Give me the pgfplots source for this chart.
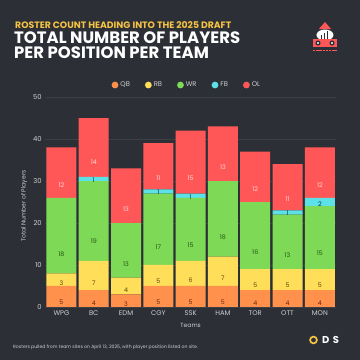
\documentclass[border=0pt]{standalone}
\usepackage{pgfplots}
\pgfplotsset{compat=1.18}
\usepackage{pgfplotstable}
\usepackage{fontspec}
\setmainfont{Poppins}
\definecolor{bg}{RGB}{44,48,54}
\definecolor{cQB}{HTML}{FF914D}
\definecolor{cRB}{HTML}{FFDE59}
\definecolor{cWR}{HTML}{7ED957}
\definecolor{cFB}{HTML}{5CE1E6}
\definecolor{cOL}{HTML}{FF5757}
\definecolor{ttl}{HTML}{F6C344}
\definecolor{lbl}{RGB}{205,205,205}
\definecolor{tQB}{RGB}{110,40,10}
\definecolor{tRB}{RGB}{95,75,10}
\definecolor{tWR}{RGB}{35,85,20}
\definecolor{tFB}{RGB}{20,50,60}
\definecolor{tOL}{RGB}{255,215,215}

\pgfplotstableread{
idx team QB RB WR FB OL
0 WPG 5 3 18 0 12
1 BC 4 7 19 1 14
2 EDM 3 4 13 0 13
3 CGY 5 5 17 1 11
4 SSK 5 6 15 1 15
5 HAM 5 7 18 0 13
6 TOR 4 5 16 0 12
7 OTT 4 5 13 1 11
8 MON 4 5 15 2 12
}\rosters

\pgfplotsset{
  seglabel/.style 2 args={
    point meta=explicit,
    visualization depends on={\thisrow{#1} \as \segval},
    nodes near coords={\ifdim\segval pt>0pt\pgfmathprintnumber{\pgfplotspointmeta}\fi},
    every node near coord/.style={anchor=center, yshift=-1.05*\segval pt,
      font=\fontsize{6.3}{7}\selectfont, text=#2, inner sep=0pt},
  }
}

\begin{document}
\begin{tikzpicture}[x=1pt,y=1pt]
\fill[bg] (0,0) rectangle (360,360);
% titles
\node[anchor=west, text=ttl, font=\bfseries\fontsize{9.3}{10}\selectfont, inner sep=0] at (15,335) {ROSTER COUNT HEADING INTO THE 2025 DRAFT};
\node[anchor=west, text=white, font=\bfseries\fontsize{16.5}{17}\selectfont, inner sep=0] at (14,322) {TOTAL NUMBER OF PLAYERS};
\node[anchor=west, text=white, font=\bfseries\fontsize{16.5}{17}\selectfont, inner sep=0] at (14,307) {PER POSITION PER TEAM};
% logo
\fill[cOL] (319,331) -- (331,331) -- (325,338) -- cycle;
\fill[white] (325,325) ellipse (8.5 and 5.5);
\fill[bg] (321,321.5) rectangle (322.5,325);
\fill[bg] (324,321.5) rectangle (325.5,327);
\fill[bg] (327,321.5) rectangle (328.5,329);
\fill[cOL] (313,313) rectangle (337,321);
\fill[bg] (318,317) circle (2.6);
\fill[bg] (332,317) circle (2.6);
\fill[white] (318,317) circle (1.2);
\fill[white] (332,317) circle (1.2);
\draw[cOL, line width=1.2pt, dash pattern=on 2.5pt off 0.7pt] (313,309.5) -- (337,309.5);
% footer
\node[anchor=west, text=lbl, font=\fontsize{4.6}{5}\selectfont, inner sep=0] at (13,13) {Rosters pulled from team sites on April 13, 2025, with player position listed on site.};
\draw[ttl, line width=1.7pt] (313.5,20) circle (3.4);
\node[anchor=west, text=white, font=\bfseries\fontsize{10}{10}\selectfont, inner sep=0] at (322,20) {D\hspace{3.5pt}S};

\begin{axis}[
  at={(45.3pt,53pt)}, anchor=south west,
  x=32.3pt, y=4.2pt,
  xmin=-0.5, xmax=8.5, ymin=0, ymax=50,
  ybar stacked, bar width=30pt,
  axis line style={draw=none}, major tick style={draw=none},
  xtick=data, xticklabels from table={\rosters}{team},
  ytick={0,10,...,50},
  ymajorgrids, grid style={white, opacity=0.08, line width=0.6pt},
  ticklabel style={font=\fontsize{6.8}{8}\selectfont, text=lbl},
  /pgf/number format/assume math mode=true,
  xlabel={Teams}, ylabel={Total Number of Players},
  label style={font=\fontsize{6}{7}\selectfont, text=lbl},
  xlabel style={at={(axis description cs:0.5,-0.086)}, anchor=center},
  ylabel style={at={(axis description cs:-0.05,0.48)}, anchor=south},
  legend style={at={(0.487,1.057)}, anchor=center, draw=none, fill=none,
    legend columns=5, font=\fontsize{6.8}{7}\selectfont, text=lbl,
    /tikz/every even column/.append style={column sep=13pt}},
  legend image code/.code={\fill[#1,draw=none] (0pt,0pt) circle (3.4pt);},
]
\addplot[fill=cQB, draw=none, seglabel={QB}{tQB}] table[x=idx, y=QB, meta=QB]{\rosters};
\addplot[fill=cRB, draw=none, seglabel={RB}{tRB}] table[x=idx, y=RB, meta=RB]{\rosters};
\addplot[fill=cWR, draw=none, seglabel={WR}{tWR}] table[x=idx, y=WR, meta=WR]{\rosters};
\addplot[fill=cFB, draw=none, seglabel={FB}{tFB}] table[x=idx, y=FB, meta=FB]{\rosters};
\addplot[fill=cOL, draw=none, seglabel={OL}{tOL}] table[x=idx, y=OL, meta=OL]{\rosters};
\legend{QB,RB,WR,FB,OL}
\end{axis}
\end{tikzpicture}
\end{document}
